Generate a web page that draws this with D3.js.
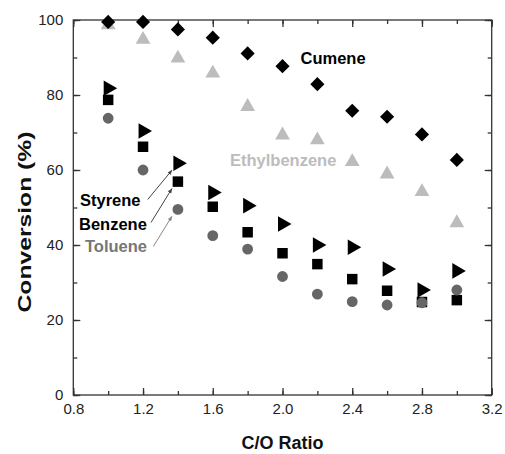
<!DOCTYPE html>
<html>
<head>
<meta charset="utf-8">
<script src="https://cdn.jsdelivr.net/npm/d3@7"></script>
<style>
  body { margin: 0; background: #fff; }
  svg { display: block; font-family: Arial, 'Liberation Sans', sans-serif; }
  .tick text { font-size: 15px; fill: #222; }
</style>
</head>
<body>
<div id="chart"></div>
<script>
// Data
const ratios = [1.0, 1.2, 1.4, 1.6, 1.8, 2.0, 2.2, 2.4, 2.6, 2.8, 3.0];
const cumene = [99.5, 99.5, 97.5, 95.3, 91.1, 87.7, 82.9, 75.8, 74.2, 69.5, 62.7];
const ethylbenzene = [98.7, 94.8, 89.8, 85.8, 76.9, 69.3, 68.0, 62.2, 58.9, 54.2, 45.9];
const styrene = [81.8, 70.4, 61.8, 54.0, 50.5, 45.6, 40.0, 39.4, 33.6, 28.0, 33.1];
const benzene = [78.7, 66.2, 56.9, 50.2, 43.4, 37.8, 34.9, 30.9, 27.8, 24.8, 25.3];
const toluene = [73.8, 60.0, 49.5, 42.5, 38.9, 31.6, 26.9, 24.9, 24.0, 24.6, 28.0];
const xTicks = [0.8, 1.2, 1.6, 2.0, 2.4, 2.8, 3.2];
const yTicks = [0, 20, 40, 60, 80, 100];

const W = 505;
const H = 454;
const margin = { l: 73.3, r: 13.3, t: 20, b: 59 };
const width = W - margin.l - margin.r;
const height = H - margin.t - margin.b;

const x = d3.scaleLinear([0.8, 3.2], [0, width]);
const y = d3.scaleLinear([0, 100], [height, 0]);

const svg = d3
  .select('#chart')
  .append('svg')
  .attr('width', W)
  .attr('height', H)
  .append('g')
  .attr('transform', `translate(${margin.l}, ${margin.t})`);

// frame
svg
  .append('rect')
  .attr('width', width)
  .attr('height', height)
  .attr('fill', 'none')
  .attr('stroke', '#333')
  .attr('stroke-width', 1.3);

// ticks (inward on all four sides)
const xMinor = d3.range(0.8, 3.21, 0.2);
const yMinor = d3.range(0, 101, 10);
const axisStyle = (g) => {
  g.select('.domain').remove();
  g.selectAll('.tick line').attr('stroke', '#333').attr('stroke-width', 1.3);
};

svg.append('g').attr('transform', `translate(0, ${height})`)
  .call(d3.axisBottom(x).tickValues(xMinor).tickSize(-4).tickFormat(''))
  .call(axisStyle);
svg.append('g').attr('transform', `translate(0, ${height})`)
  .call(d3.axisBottom(x).tickValues(xTicks).tickSize(-7).tickPadding(8).tickFormat(d3.format('.1f')))
  .call(axisStyle)
  .selectAll('text').attr('dy', '0.71em');
svg.append('g')
  .call(d3.axisTop(x).tickValues(xMinor).tickSize(-4).tickFormat(''))
  .call(axisStyle);
svg.append('g')
  .call(d3.axisTop(x).tickValues(xTicks).tickSize(-7).tickFormat(''))
  .call(axisStyle);

svg.append('g')
  .call(d3.axisLeft(y).tickValues(yMinor).tickSize(-4).tickFormat(''))
  .call(axisStyle);
svg.append('g')
  .call(d3.axisLeft(y).tickValues(yTicks).tickSize(-7).tickPadding(10))
  .call(axisStyle);
svg.append('g').attr('transform', `translate(${width}, 0)`)
  .call(d3.axisRight(y).tickValues(yMinor).tickSize(-4).tickFormat(''))
  .call(axisStyle);
svg.append('g').attr('transform', `translate(${width}, 0)`)
  .call(d3.axisRight(y).tickValues(yTicks).tickSize(-7).tickFormat(''))
  .call(axisStyle);

// series
const series = [
  { name: 'Ethylbenzene', values: ethylbenzene, symbol: d3.symbolTriangle, size: 95, color: '#bcbcbc', rotate: 0 },
  { name: 'Cumene', values: cumene, symbol: d3.symbolSquare, size: 100, color: '#000', rotate: 45 },
  { name: 'Styrene', values: styrene, symbol: d3.symbolTriangle, size: 105, color: '#000', rotate: 90 },
  { name: 'Benzene', values: benzene, symbol: d3.symbolSquare, size: 110, color: '#000', rotate: 0 },
  { name: 'Toluene', values: toluene, symbol: d3.symbolCircle, size: 92, color: '#666', rotate: 0 },
];

series.forEach((s) => {
  svg
    .append('g')
    .selectAll('path')
    .data(ratios.map((r, i) => [r, s.values[i]]))
    .join('path')
    .attr('d', d3.symbol(s.symbol, s.size))
    .attr('transform', (d) => `translate(${x(d[0])}, ${y(d[1])}) rotate(${s.rotate})`)
    .attr('fill', s.color);
});

// series labels
const labels = [
  { text: 'Cumene', px: 300.5, py: 63.5, color: '#000' },
  { text: 'Ethylbenzene', px: 230, py: 166, color: '#bcbcbc' },
  { text: 'Styrene', px: 80, py: 206, color: '#000' },
  { text: 'Benzene', px: 79, py: 229.5, color: '#000' },
  { text: 'Toluene', px: 85, py: 252, color: '#777' },
];
d3.select('svg')
  .selectAll('.label')
  .data(labels)
  .join('text')
  .attr('class', 'label')
  .attr('x', (d) => d.px)
  .attr('y', (d) => d.py)
  .attr('fill', (d) => d.color)
  .style('font-size', '16.5px')
  .style('font-weight', 'bold')
  .text((d) => d.text);

// arrows from labels to the 1.4 points
const defs = d3.select('svg').append('defs');
['#444', '#888'].forEach((c, i) => {
  defs
    .append('marker')
    .attr('id', `head${i}`)
    .attr('viewBox', '0 0 10 10')
    .attr('refX', 9)
    .attr('refY', 5)
    .attr('markerWidth', 5)
    .attr('markerHeight', 5)
    .attr('orient', 'auto')
    .append('path')
    .attr('d', 'M0,1L10,5L0,9Z')
    .attr('fill', c);
});
const arrows = [
  { x0: 147.7, y0: 199.5, series: styrene, color: '#444', head: 0 },
  { x0: 151, y0: 222.5, series: benzene, color: '#444', head: 0 },
  { x0: 153.3, y0: 246.5, series: toluene, color: '#888', head: 1 },
];
svg
  .selectAll('.arrow')
  .data(arrows)
  .join('line')
  .attr('class', 'arrow')
  .attr('x1', (d) => d.x0 - margin.l)
  .attr('y1', (d) => d.y0 - margin.t)
  .attr('x2', () => x(1.4) - 6)
  .attr('y2', (d) => y(d.series[2]) + 7)
  .attr('stroke', (d) => d.color)
  .attr('stroke-width', 1)
  .attr('marker-end', (d) => `url(#head${d.head})`);

// axis names
svg
  .append('text')
  .attr('x', width / 2)
  .attr('y', height + 54)
  .attr('text-anchor', 'middle')
  .style('font-size', '18px')
  .style('font-weight', 'bold')
  .attr('fill', '#111')
  .text('C/O Ratio');
svg
  .append('text')
  .attr('transform', `translate(${31 - margin.l}, ${222 - margin.t}) rotate(-90)`)
  .attr('text-anchor', 'middle')
  .attr('textLength', 181)
  .attr('lengthAdjust', 'spacingAndGlyphs')
  .style('font-size', '19px')
  .style('font-weight', 'bold')
  .attr('fill', '#111')
  .text('Conversion (%)');
</script>
</body>
</html>
